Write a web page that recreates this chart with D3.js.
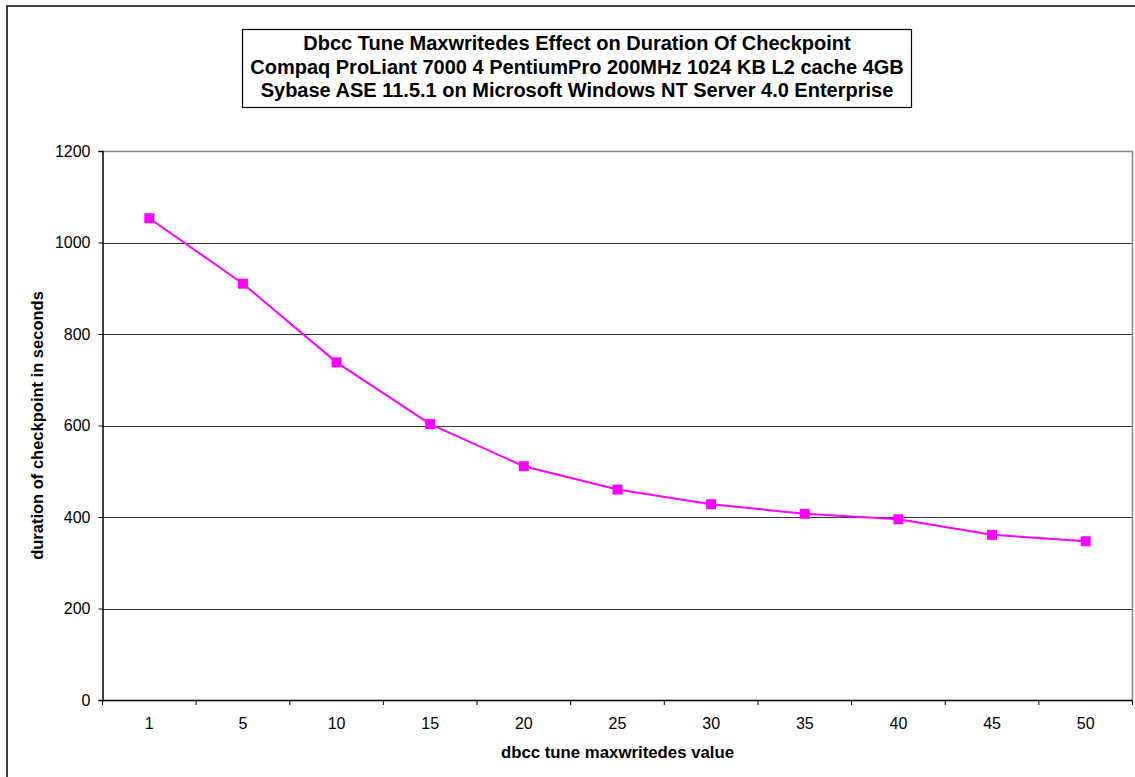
<!DOCTYPE html>
<html>
<head>
<meta charset="utf-8">
<script src="https://cdn.jsdelivr.net/npm/d3@7"></script>
<style>
  html, body { margin: 0; padding: 0; background: #fff; }
  svg { display: block; font-family: "Liberation Sans", Arial, sans-serif; }
</style>
</head>
<body>
<svg id="chart" width="1135" height="777"></svg>
<script>
// Checkpoint duration measured for each dbcc tune maxwritedes setting
const categories = ["1", "5", "10", "15", "20", "25", "30", "35", "40", "45", "50"];
const durations = [1053, 910, 738, 603, 511, 460, 428, 407, 395, 361, 347];
const yTicks = [0, 200, 400, 600, 800, 1000, 1200];
const titleLines = [
  "Dbcc Tune Maxwritedes Effect on Duration Of Checkpoint",
  "Compaq ProLiant 7000 4 PentiumPro 200MHz 1024 KB L2 cache 4GB",
  "Sybase ASE 11.5.1 on Microsoft Windows NT Server 4.0 Enterprise"
];
const xTitle = "dbcc tune maxwritedes value";
const yTitle = "duration of checkpoint in seconds";

const svg = d3.select("#chart");
const plot = { left: 102.5, right: 1132.5, top: 151, bottom: 700 };

// outer chart frame (runs off the right and bottom edges)
svg.append("rect")
  .attr("x", 7).attr("y", 6)
  .attr("width", 1140).attr("height", 790)
  .attr("fill", "none").attr("stroke", "#000").attr("stroke-width", 1.5);

const x = d3.scaleBand().domain(categories).range([plot.left, plot.right]).padding(0);
const y = d3.scaleLinear().domain([0, 1200]).range([plot.bottom, plot.top]);

// horizontal gridlines
svg.append("g").selectAll("line")
  .data(yTicks.filter(t => t > 0 && t < 1200))
  .join("line")
  .attr("x1", plot.left).attr("x2", plot.right)
  .attr("y1", d => Math.round(y(d)) + 0.5).attr("y2", d => Math.round(y(d)) + 0.5)
  .attr("stroke", "#333").attr("stroke-width", 1.2);

// top and right edges of the plot area
svg.append("path")
  .attr("d", `M${plot.left},${plot.top + 0.5}H${plot.right}V${plot.bottom}`)
  .attr("fill", "none").attr("stroke", "#888").attr("stroke-width", 1.5);

// y axis
const yAxis = svg.append("g")
  .attr("transform", `translate(${plot.left},0)`)
  .call(d3.axisLeft(y).tickValues(yTicks).tickFormat(d3.format("d")).tickSize(4).tickPadding(8));
yAxis.select(".domain").attr("stroke", "#000").attr("stroke-width", 1.5);
yAxis.selectAll(".tick line").attr("stroke", "#000");
yAxis.selectAll(".tick text").attr("font-size", 16).attr("fill", "#000")
  .attr("font-family", "Liberation Sans, Arial, sans-serif");

// x axis: labels centred in each band, ticks on the band boundaries
const xAxis = svg.append("g")
  .attr("transform", `translate(0,${plot.bottom})`)
  .call(d3.axisBottom(x).tickSize(0).tickPadding(18));
xAxis.select(".domain").attr("stroke", "#000").attr("stroke-width", 1.5);
xAxis.selectAll(".tick text").attr("font-size", 16).attr("fill", "#000")
  .attr("font-family", "Liberation Sans, Arial, sans-serif");
const bounds = categories.map(c => x(c)).concat([plot.right]);
xAxis.append("g").selectAll("line")
  .data(bounds)
  .join("line")
  .attr("x1", d => d).attr("x2", d => d)
  .attr("y1", 0).attr("y2", 5)
  .attr("stroke", "#000").attr("stroke-width", 1);

// data line and square markers
const cx = c => x(c) + x.bandwidth() / 2;
const line = d3.line().x((d, i) => cx(categories[i])).y(d => y(d));
svg.append("path")
  .datum(durations)
  .attr("d", line)
  .attr("fill", "none").attr("stroke", "#ff00ff").attr("stroke-width", 2);
const ms = 10;
svg.append("g").selectAll("rect")
  .data(durations)
  .join("rect")
  .attr("x", (d, i) => cx(categories[i]) - ms / 2)
  .attr("y", d => y(d) - ms / 2)
  .attr("width", ms).attr("height", ms)
  .attr("fill", "#ff00ff");

// title box
const title = svg.append("g");
title.append("rect")
  .attr("x", 242.5).attr("y", 29.5).attr("width", 669).attr("height", 78)
  .attr("fill", "#fff").attr("stroke", "#000").attr("stroke-width", 1.2);
title.selectAll("text")
  .data(titleLines)
  .join("text")
  .attr("x", 577).attr("y", (d, i) => 50 + i * 23.5)
  .attr("text-anchor", "middle")
  .attr("font-size", 20).attr("font-weight", "bold")
  .text(d => d);

// axis titles
svg.append("text")
  .attr("x", (plot.left + plot.right) / 2).attr("y", 758)
  .attr("text-anchor", "middle")
  .attr("font-size", 16.8).attr("font-weight", "bold")
  .text(xTitle);
svg.append("text")
  .attr("transform", `translate(43,${(plot.top + plot.bottom) / 2}) rotate(-90)`)
  .attr("text-anchor", "middle")
  .attr("font-size", 16.5).attr("font-weight", "bold")
  .text(yTitle);
</script>
</body>
</html>
